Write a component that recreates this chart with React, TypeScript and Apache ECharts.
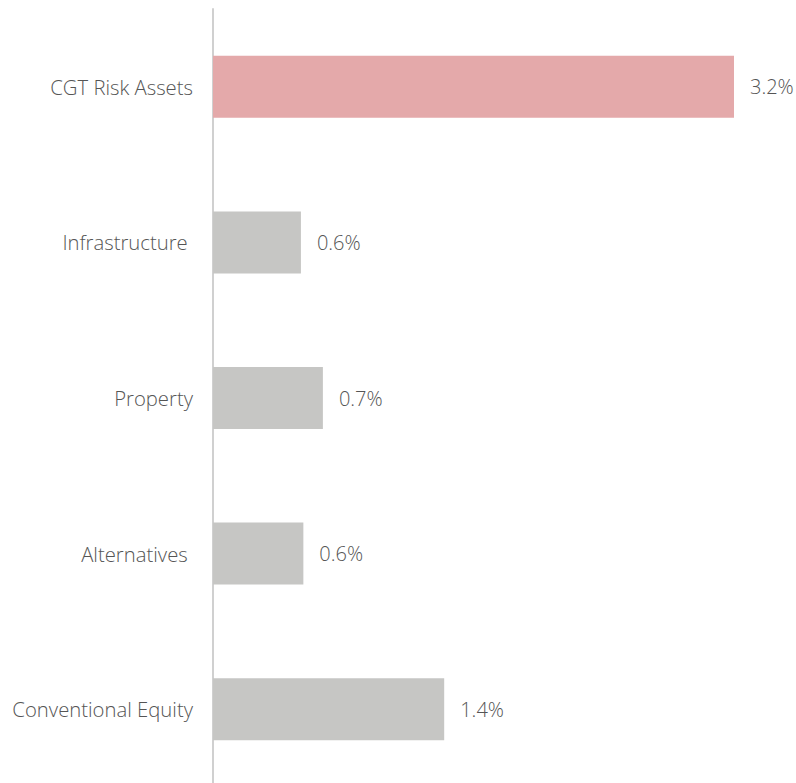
import React, { useEffect, useRef } from "react";
import * as echarts from "echarts";

const categories = ["CGT Risk Assets", "Infrastructure ", "Property", "Alternatives ", "Conventional Equity"];
const values = [3.2, 0.54, 0.675, 0.555, 1.42];
const valueLabels = ["3.2%", "0.6%", "0.7%", "0.6%", "1.4%"];
const barColors = ["#e4a9aa", "#c6c6c4", "#c6c6c4", "#c6c6c4", "#c6c6c4"];

export default function App() {
  const ref = useRef<HTMLDivElement>(null);
  useEffect(() => {
    if (!ref.current) return;
    const chart = echarts.init(ref.current, null, { renderer: "svg" });
    const font = "'Open Sans', sans-serif";
    chart.setOption({
      animation: false,
      backgroundColor: "#ffffff",
      grid: { left: 213, right: 62, top: 9, bottom: 0, containLabel: false },
      xAxis: {
        type: "value",
        min: 0,
        max: 3.2,
        show: false,
      },
      yAxis: {
        type: "category",
        inverse: true,
        data: categories,
        axisLine: { show: true, lineStyle: { color: "#d0d0d0", width: 2 } },
        axisTick: { show: false },
        axisLabel: { color: "#555555", fontSize: 20.3, fontWeight: 300, fontFamily: font, margin: 20 },
        splitLine: { show: false },
      },
      series: [
        {
          type: "bar",
          barWidth: 62,
          data: values.map((v, i) => ({ value: v, itemStyle: { color: barColors[i] } })),
          label: {
            show: true,
            position: "right",
            distance: 16,
            color: "#555555",
            fontSize: 20,
            fontWeight: 300,
            fontFamily: font,
            formatter: (p: any) => valueLabels[p.dataIndex],
          },
        },
      ],
    });
    return () => chart.dispose();
  }, []);
  return (
    <div
      ref={ref}
      style={{ position: "fixed", left: 0, top: 0, width: 796, height: 787 }}
    />
  );
}
